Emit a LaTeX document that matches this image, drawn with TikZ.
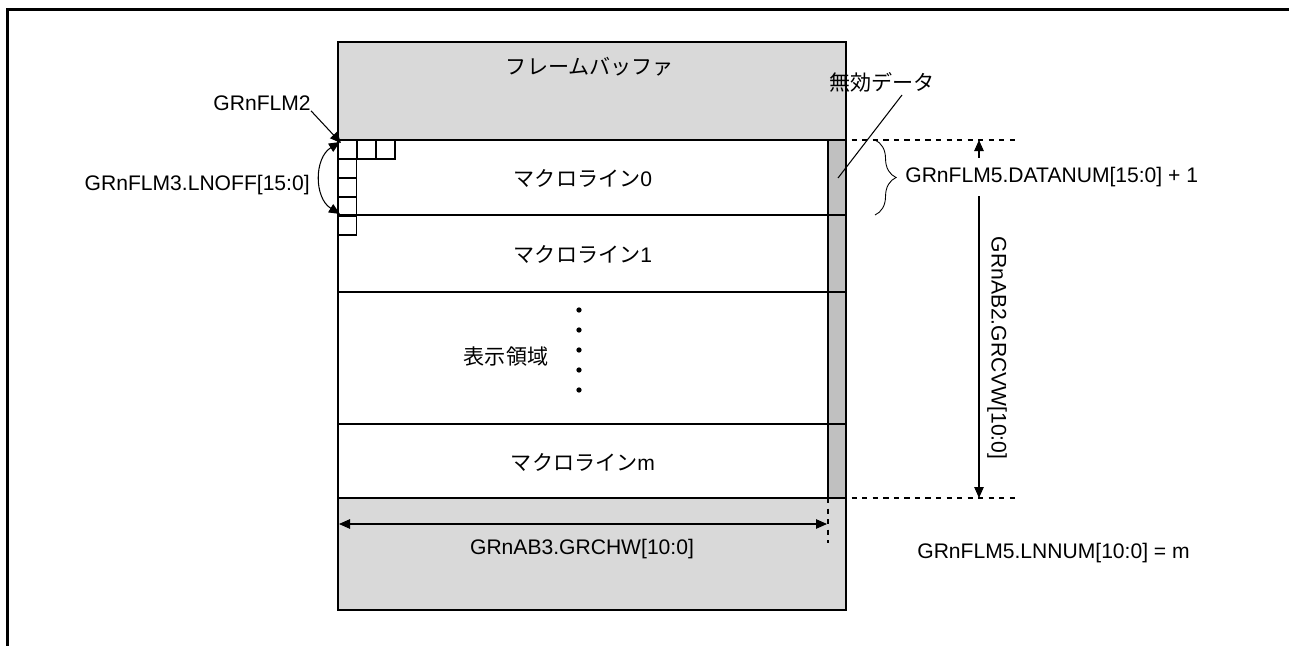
\documentclass[tikz,border=0pt]{standalone}
\usepackage{fontspec}
\setmainfont{Liberation Sans}
\newfontfamily\jp{Noto Sans CJK JP}
\usetikzlibrary{arrows.meta,decorations.pathreplacing}
\definecolor{bufgray}{RGB}{217,217,217}
\definecolor{invgray}{RGB}{192,192,192}

\begin{document}
\begin{tikzpicture}[x=0.02cm,y=-0.02cm,>={Triangle[length=2.2mm,width=1.9mm]},font=\fontsize{12}{14}\selectfont]
\tikzset{frm/.style={line width=1.1pt},cel/.style={draw,line width=0.8pt},
  lab/.style={inner sep=0pt},dim/.style={<->,line width=0.6pt},gd/.style={dashed,line width=0.6pt}}
\useasboundingbox (0,0) rectangle (1289,646);
\draw[line width=1.7pt] (7.5,646) |- (1289,9.5);
% frame buffer
\fill[bufgray] (338,42) rectangle (846,610);\fill[white] (338,140) rectangle (828,498);\fill[invgray] (828,140) rectangle (846,498);
\foreach \y in {140,215,292,424,498} \draw[frm] (338,\y) -- (846,\y);
\draw[frm] (828,140) -- (828,498);\draw[frm] (338,42) rectangle (846,610);
\foreach \i in {0,1,2} \draw[cel] ({338+19*\i},140) rectangle ++(19,19);
\foreach \j in {1,...,4} \draw[cel] (338,{140+19*\j}) rectangle ++(18.5,19);
\node[lab] (fb) at (590,67) {\jp フレームバッファ};
\node[lab] (m0) at (583,178) {{\jp マクロライン}0};\node[lab] (m1) at (583,254) {{\jp マクロライン}1};
\node[lab] (disp) at (506,357) {\jp 表示領域};\node[lab] (mm) at (583,462) {{\jp マクロライン}m};
\foreach \k in {0,...,4} \fill (579,{310+20*\k}) circle (1.5pt);
% left side
\node[lab,anchor=east] (flm2) at (311,103) {GRnFLM2};\coordinate (c0) at (341,143);
\draw[->,line width=0.6pt] (flm2.south east) -- (c0);
\node[lab,anchor=east] (lnoff) at (310,185) {GRnFLM3.LNOFF[15:0]};
\coordinate (lo1) at (340,142);\coordinate (lo2) at (340,214);
\draw[dim] (lo1) .. controls (314,158) and (314,198) .. (lo2);
% right side
\node[lab] (inv) at (882,82) {\jp 無効データ};\coordinate (ivA) at (902,95);\coordinate (ivB) at (838,178);
\draw[line width=0.6pt] (ivA) -- (ivB);
\coordinate (dt1) at (820,140);\coordinate (dt2) at (1017,140);\coordinate (db1) at (820,498);\coordinate (db2) at (1017,498);
\draw[gd] (dt1) -- (dt2);\draw[gd] (db1) -- (db2);
\coordinate (va1) at (979,140);\coordinate (va2) at (979,498);\draw[dim] (va1) -- (va2);
\node[lab,rotate=-90] (cvw) at (997,348) {GRnAB2.GRCVW[10:0]};
\draw[line width=0.5pt,decorate,decoration={brace,amplitude=12pt}] (875,140) -- (875,215);
\node[lab,anchor=west,fill=white,inner ysep=5pt] (dnum) at (905,177) {GRnFLM5.DATANUM[15:0] + 1};
% bottom
\coordinate (ba1) at (339,524);\coordinate (ba2) at (827,524);\draw[dim] (ba1) -- (ba2);
\coordinate (tk1) at (828,498);\coordinate (tk2) at (828,543);\draw[gd] (tk1) -- (tk2);
\node[lab] (chw) at (582,549) {GRnAB3.GRCHW[10:0]};
\node[lab,anchor=west] (lnnum) at (917,553) {GRnFLM5.LNNUM[10:0] = m};
\end{tikzpicture}
\end{document}
